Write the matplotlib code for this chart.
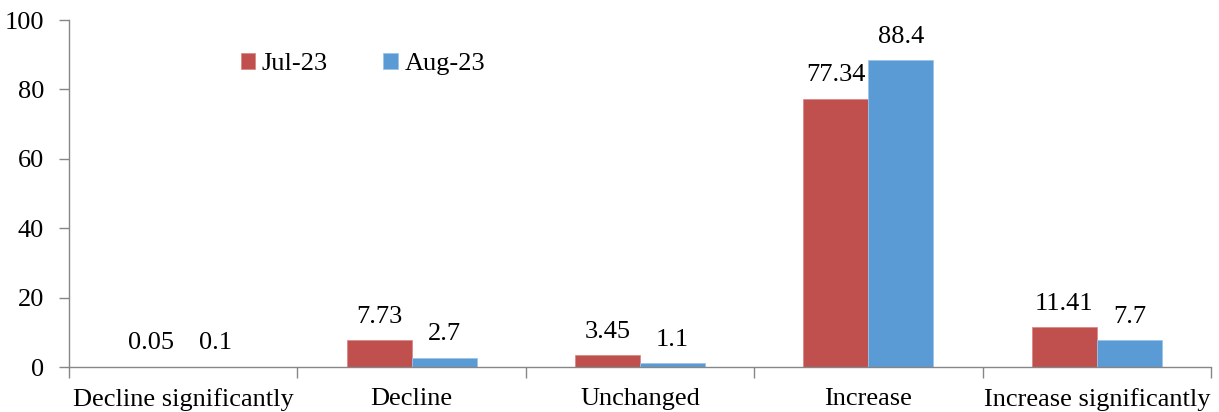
import matplotlib
matplotlib.use("Agg")
import matplotlib.pyplot as plt
import numpy as np

categories = ["Decline significantly", "Decline", "Unchanged", "Increase", "Increase significantly"]
jul23 = [0.05, 7.73, 3.45, 77.34, 11.41]
aug23 = [0.1, 2.7, 1.1, 88.4, 7.7]
series_names = ["Jul-23", "Aug-23"]
label_jul = ["0.05", "7.73", "3.45", "77.34", "11.41"]
label_aug = ["0.1", "2.7", "1.1", "88.4", "7.7"]
yticks = [0, 20, 40, 60, 80, 100]

plt.rcParams['font.family'] = ['Liberation Serif', 'DejaVu Serif']
FS = 19

fig = plt.figure(figsize=(12.19, 4.12), dpi=100)
ax = fig.add_axes([69/1219, 45/412, (1211-69)/1219, (367-20)/412])

red = "#C0504D"
blue = "#5B9BD5"
w = 0.285
x = np.arange(len(categories))
ax.bar(x - w/2, jul23, w, color=red, edgecolor="#D98A88", linewidth=0.6, label=series_names[0])
ax.bar(x + w/2, aug23, w, color=blue, edgecolor="#9CC3E8", linewidth=0.6, label=series_names[1])

for xi, v, t in zip(x, jul23, label_jul):
    ax.annotate(t, (xi - w/2, v), xytext=(0, 9), textcoords='offset points',
                ha='center', va='bottom', fontsize=FS)
for xi, v, t in zip(x, aug23, label_aug):
    ax.annotate(t, (xi + w/2, v), xytext=(0, 9), textcoords='offset points',
                ha='center', va='bottom', fontsize=FS)

ax.set_xlim(-0.5, len(categories) - 0.5)
ax.set_ylim(0, 100)
ax.set_yticks(yticks)
ax.set_yticklabels([str(t) for t in yticks], fontsize=FS)
ax.set_xticks(x)
ax.set_xticklabels(categories, fontsize=FS)
ax.tick_params(axis='x', length=0, pad=15)
ax.set_xticks(np.arange(len(categories) + 1) - 0.5, minor=True)
ax.tick_params(axis='x', which='minor', length=8, width=1, color='#868686', direction='out')
ax.tick_params(axis='y', length=7, width=1, color='#868686', direction='out', pad=11)

for s in ['top', 'right']:
    ax.spines[s].set_visible(False)
for s in ['left', 'bottom']:
    ax.spines[s].set_color('#868686')
    ax.spines[s].set_linewidth(1)

ax.legend(loc='upper left', bbox_to_anchor=(0.141, 0.935), ncol=2, frameon=False,
          fontsize=FS, handlelength=0.55, handleheight=0.55, handletextpad=0.25,
          columnspacing=2.1, borderaxespad=0)

fig.savefig("out.png", dpi=100)
